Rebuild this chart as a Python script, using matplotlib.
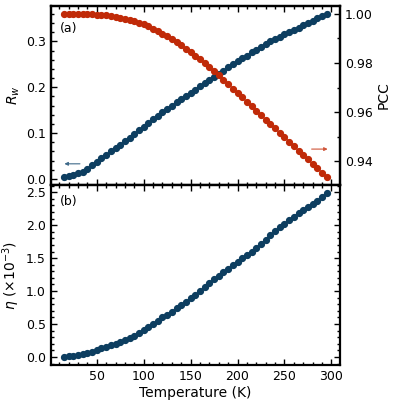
import numpy as np
import matplotlib
matplotlib.use("Agg")
import matplotlib.pyplot as plt
from matplotlib.ticker import AutoMinorLocator, MultipleLocator

# temperature grid (K)
temp = np.arange(15, 300, 5)

# weighted R factor (left axis, panel a)
rw = [0.004, 0.006, 0.008, 0.012, 0.016, 0.022, 0.030, 0.038, 0.045, 0.052,
      0.060, 0.067, 0.075, 0.083, 0.090, 0.098, 0.106, 0.114, 0.122, 0.130,
      0.138, 0.146, 0.153, 0.160, 0.167, 0.174, 0.181, 0.188, 0.195, 0.202,
      0.209, 0.216, 0.222, 0.229, 0.236, 0.243, 0.250, 0.257, 0.263, 0.269,
      0.276, 0.282, 0.288, 0.294, 0.300, 0.305, 0.310, 0.315, 0.320, 0.325,
      0.330, 0.335, 0.340, 0.345, 0.350, 0.355, 0.360]

# Pearson correlation coefficient (right axis, panel a)
pcc = [1.0000, 1.0000, 1.0000, 1.0000, 1.0000, 0.9999, 0.9998, 0.9997, 0.9996, 0.9994,
       0.9992, 0.9989, 0.9985, 0.9981, 0.9976, 0.9970, 0.9964, 0.9957, 0.9949, 0.9940,
       0.9930, 0.9920, 0.9909, 0.9897, 0.9885, 0.9872, 0.9859, 0.9845, 0.9830, 0.9815,
       0.9799, 0.9783, 0.9767, 0.9750, 0.9732, 0.9714, 0.9696, 0.9678, 0.9660, 0.9642,
       0.9624, 0.9606, 0.9588, 0.9570, 0.9552, 0.9534, 0.9516, 0.9498, 0.9480, 0.9462,
       0.9444, 0.9426, 0.9408, 0.9390, 0.9372, 0.9354, 0.9336]

# eta in units of 1e-3 (panel b)
eta = [0.005, 0.010, 0.020, 0.030, 0.040, 0.060, 0.080, 0.105, 0.130, 0.155,
       0.180, 0.205, 0.230, 0.255, 0.283, 0.325, 0.365, 0.410, 0.455, 0.500,
       0.550, 0.600, 0.645, 0.690, 0.740, 0.790, 0.840, 0.890, 0.945, 0.995,
       1.060, 1.120, 1.180, 1.235, 1.290, 1.340, 1.395, 1.445, 1.495, 1.545,
       1.600, 1.655, 1.720, 1.780, 1.845, 1.905, 1.965, 2.020, 2.075, 2.130,
       2.185, 2.235, 2.280, 2.325, 2.370, 2.430, 2.480]

blue = '#0d3e60'
red = '#c02a08'

plt.rcParams['font.size'] = 9

fig, (ax1, ax2) = plt.subplots(2, 1, sharex=True, figsize=(3.97, 4.05), dpi=100)
fig.subplots_adjust(left=0.128, right=0.856, top=0.986, bottom=0.099, hspace=0)

ax1.plot(temp, rw, 'o-', color=blue, ms=4.2, lw=1)
ax1r = ax1.twinx()
ax1r.plot(temp, pcc, 'o-', color=red, ms=4.2, lw=1)

ax1.set_ylabel('$R_w$', fontsize=10, labelpad=3)
ax1r.set_ylabel('PCC', fontsize=10, labelpad=3)
ax1.text(0.03, 0.875, '(a)', transform=ax1.transAxes, va='center', fontsize=9)

ax1.annotate('', xy=(12.5, 0.033), xytext=(35, 0.033),
             arrowprops=dict(arrowstyle='-|>', color='#3f6a8a', lw=0.8,
                             mutation_scale=5))
ax1r.annotate('', xy=(299, 0.945), xytext=(276, 0.945),
              arrowprops=dict(arrowstyle='-|>', color='#d0553a', lw=0.8,
                              mutation_scale=5))

ax2.plot(temp, eta, 'o-', color=blue, ms=4.2, lw=1)
ax2.set_ylabel(r'$\eta$ ($\times 10^{-3}$)', fontsize=10, labelpad=3)
ax2.set_xlabel('Temperature (K)', fontsize=10, labelpad=2)
ax2.text(0.03, 0.908, '(b)', transform=ax2.transAxes, va='center', fontsize=9)

ax2.xaxis.set_major_locator(MultipleLocator(50))
ax1.yaxis.set_major_locator(MultipleLocator(0.1))
ax1r.yaxis.set_major_locator(MultipleLocator(0.02))
ax2.yaxis.set_major_locator(MultipleLocator(0.5))

ax1.xaxis.set_minor_locator(AutoMinorLocator(5))
ax1.yaxis.set_minor_locator(AutoMinorLocator(5))
ax1r.yaxis.set_minor_locator(AutoMinorLocator(2))
ax2.yaxis.set_minor_locator(AutoMinorLocator(5))

for a in (ax1, ax1r, ax2):
    for s in a.spines.values():
        s.set_linewidth(1.6)
    a.tick_params(which='both', direction='in', width=1, labelsize=9)
    a.tick_params(which='major', length=4)
    a.tick_params(which='minor', length=2)

ax1.tick_params(which='both', top=True, right=False)
ax1r.tick_params(which='both', left=False, right=True)
ax2.tick_params(which='both', top=True, right=True)

fig.savefig('out.png', dpi=100)
